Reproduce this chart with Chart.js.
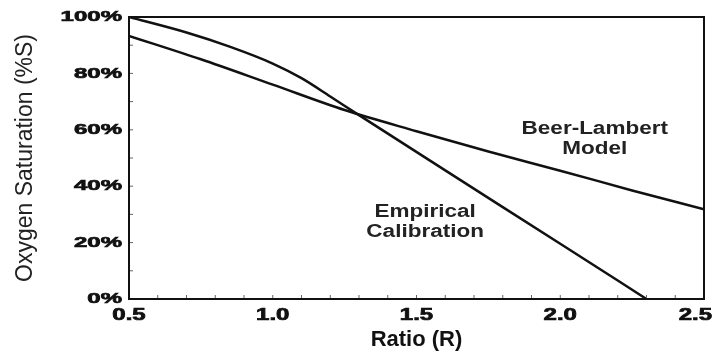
<!DOCTYPE html>
<html>
<head>
<meta charset="utf-8">
<script src="https://cdn.jsdelivr.net/npm/chart.js@4/dist/chart.umd.min.js"></script>
<style>
  html, body { margin: 0; padding: 0; background: #fff; }
  #wrap { width: 714px; height: 354px; }
</style>
</head>
<body>
<div id="wrap"><canvas id="myChart"></canvas></div>
<script>
// values
var empiricalR = [0.5, 0.7, 0.85, 1.0, 1.1, 1.2, 1.3, 1.6, 2.0, 2.3];
var empiricalS = [100, 94.5, 89.5, 83.5, 78.3, 71.8, 65.2, 45.6, 19.6, 0];

var beerR = [0.5, 0.75, 1.0, 1.25, 1.5, 1.75, 2.0, 2.25, 2.5];
var beerS = [93.3, 85, 76, 67, 59.5, 52.3, 45.5, 38.5, 31.8];

var xTicks = [0.5, 1.0, 1.5, 2.0, 2.5];
var yTicks = [0, 20, 40, 60, 80, 100];

// text labels placed in data units
var notes = [
    { x: 2.12, y: 60.4, lines: ["Beer-Lambert", "Model"] },
    { x: 1.53, y: 30.7, lines: ["Empirical", "Calibration"] }
];

function toPoints(xs, ys) {
    var pts = [];
    for (var i = 0; i < xs.length; i++) pts.push({ x: xs[i], y: ys[i] });
    return pts;
}

var fontFam = "'Liberation Sans', Arial, sans-serif";

// the original lettering is wide, so squeeze it out sideways
function wideText(ctx, text, x, y, stretch, align, heavy) {
    ctx.save();
    ctx.translate(x, y);
    ctx.scale(stretch, 1);
    ctx.textAlign = align;
    ctx.fillText(text, 0, 0);
    if (heavy) {
        ctx.lineWidth = heavy;
        ctx.strokeStyle = ctx.fillStyle;
        ctx.strokeText(text, 0, 0);
    }
    ctx.restore();
}

var framePlugin = {
    id: 'frame',
    afterDatasetsDraw: function (chart) {
        var ctx = chart.ctx;
        var a = chart.chartArea;
        var xs = chart.scales.x, ys = chart.scales.y;
        ctx.save();
        // small inward ticks
        ctx.strokeStyle = '#666';
        ctx.lineWidth = 1;
        for (var v = 5; v <= 25; v++) {
            var px = xs.getPixelForValue(v / 10);
            ctx.beginPath();
            ctx.moveTo(px, a.bottom);
            ctx.lineTo(px, a.bottom - 4);
            ctx.stroke();
        }
        for (var w = 0; w <= 100; w += 10) {
            var py = ys.getPixelForValue(w);
            ctx.beginPath();
            ctx.moveTo(a.left, py);
            ctx.lineTo(a.left + 4, py);
            ctx.stroke();
        }
        ctx.strokeStyle = '#111';
        ctx.lineWidth = 2;
        ctx.strokeRect(a.left, a.top, a.right - a.left, a.bottom - a.top);

        // tick labels
        ctx.fillStyle = '#111';
        ctx.textBaseline = 'middle';
        ctx.font = 'bold 15px ' + fontFam;
        yTicks.forEach(function (t) {
            wideText(ctx, t + '%', a.left - 7, ys.getPixelForValue(t), 1.6, 'right', 0.7);
        });
        ctx.font = 'bold 16px ' + fontFam;
        xTicks.forEach(function (t) {
            var px = xs.getPixelForValue(t);
            var half = ctx.measureText(t.toFixed(1)).width * 1.5 / 2;
            if (px + half > chart.width - 2) px = chart.width - 2 - half;
            wideText(ctx, t.toFixed(1), px, a.bottom + 17, 1.5, 'center', 0.7);
        });

        // annotations
        ctx.fillStyle = '#222';
        ctx.font = 'bold 18px ' + fontFam;
        notes.forEach(function (n) {
            var cx = xs.getPixelForValue(n.x);
            var cy = ys.getPixelForValue(n.y);
            n.lines.forEach(function (t, i) {
                wideText(ctx, t, cx, cy + i * 20, 1.25, 'center');
            });
        });
        ctx.restore();
    }
};

new Chart("myChart", {
    type: "scatter",
    data: {
        datasets: [{
            label: "Empirical Calibration",
            data: toPoints(empiricalR, empiricalS),
            showLine: true,
            borderColor: '#111',
            borderWidth: 2.5,
            pointRadius: 0,
            cubicInterpolationMode: 'monotone'
        }, {
            label: "Beer-Lambert Model",
            data: toPoints(beerR, beerS),
            showLine: true,
            borderColor: '#111',
            borderWidth: 2.5,
            pointRadius: 0,
            cubicInterpolationMode: 'monotone'
        }]
    },
    options: {
        responsive: true,
        maintainAspectRatio: false,
        animation: false,
        layout: { padding: { top: 17, right: 10, left: 0, bottom: 0 } },
        plugins: {
            legend: { display: false },
            tooltip: { enabled: false }
        },
        scales: {
            x: {
                type: 'linear',
                min: 0.5,
                max: 2.5,
                afterFit: function (s) {
                    s.height = 55;
                    s.paddingLeft = 0;
                    s.paddingRight = 0;
                },
                grid: { display: false, drawTicks: false },
                border: { display: false },
                ticks: { display: false },
                title: {
                    display: true,
                    text: 'Ratio (R)',
                    color: '#111',
                    font: { family: fontFam, size: 22, weight: 'bold' },
                    padding: { top: 0, bottom: 1 }
                }
            },
            y: {
                min: 0,
                max: 100,
                afterFit: function (s) {
                    s.width = 129;
                    s.paddingTop = 0;
                    s.paddingBottom = 0;
                },
                grid: { display: false, drawTicks: false },
                border: { display: false },
                ticks: { display: false },
                title: {
                    display: true,
                    text: 'Oxygen Saturation (%S)',
                    color: '#222',
                    font: { family: fontFam, size: 23 },
                    padding: { top: 12, bottom: 0 }
                }
            }
        }
    },
    plugins: [framePlugin]
});
</script>
</body>
</html>
